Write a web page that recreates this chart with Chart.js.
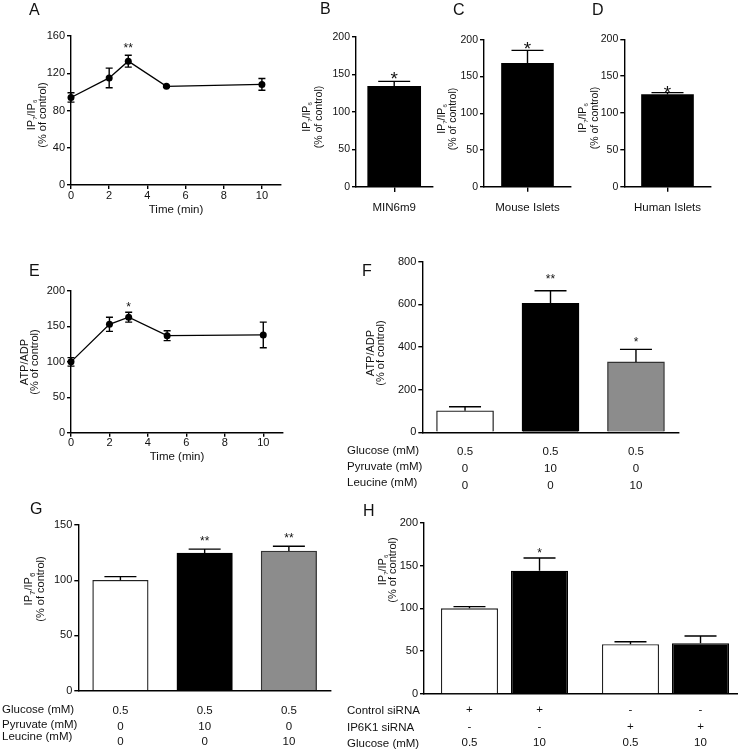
<!DOCTYPE html>
<html><head><meta charset="utf-8">
<script src="https://cdn.jsdelivr.net/npm/chart.js@4.4.1/dist/chart.umd.min.js"></script>
<style>
html,body{margin:0;padding:0;background:#fff;overflow:hidden;width:738px;height:751px;}
#wrap{position:relative;width:738px;height:751px;overflow:hidden;font-family:'Liberation Sans',Arial,Helvetica,sans-serif;color:#111;}
canvas{position:absolute;left:0;top:0;}
.lbl{position:absolute;font-size:16px;line-height:1;z-index:5;}
.yt{position:absolute;white-space:nowrap;transform:translate(-50%,-50%) rotate(-90deg);font-size:11px;line-height:1;z-index:5;}
.yt.s{font-size:10.5px;}
.yt sub{font-size:6px;vertical-align:-2px;line-height:0;}
.yt sub.big{font-size:8px;vertical-align:-3px;}
.xt{position:absolute;white-space:nowrap;transform:translate(-50%,-50%);font-size:11.5px;line-height:1;z-index:5;}
</style></head>
<body><div id="wrap">
<canvas id="cA" width="738" height="751"></canvas>
<canvas id="cB" width="738" height="751"></canvas>
<canvas id="cC" width="738" height="751"></canvas>
<canvas id="cD" width="738" height="751"></canvas>
<canvas id="cE" width="738" height="751"></canvas>
<canvas id="cF" width="738" height="751"></canvas>
<canvas id="cG" width="738" height="751"></canvas>
<canvas id="cH" width="760" height="751"></canvas>

<div class="lbl" style="left:29px;top:2px">A</div>
<div class="lbl" style="left:320px;top:1px">B</div>
<div class="lbl" style="left:453px;top:2px">C</div>
<div class="lbl" style="left:592px;top:2px">D</div>
<div class="lbl" style="left:29px;top:263px">E</div>
<div class="lbl" style="left:362px;top:263px">F</div>
<div class="lbl" style="left:30px;top:501px">G</div>
<div class="lbl" style="left:363px;top:503px">H</div>

<div class="yt" style="left:31px;top:115px">IP<sub>7</sub>/IP<sub>6</sub></div>
<div class="yt" style="left:42px;top:115px">(% of control)</div>
<div class="yt s" style="left:306px;top:117px">IP<sub>7</sub>/IP<sub>6</sub></div>
<div class="yt s" style="left:318px;top:117px">(% of control)</div>
<div class="yt s" style="left:441px;top:119px">IP<sub>7</sub>/IP<sub>6</sub></div>
<div class="yt s" style="left:452px;top:119px">(% of control)</div>
<div class="yt s" style="left:582px;top:118px">IP<sub>7</sub>/IP<sub>6</sub></div>
<div class="yt s" style="left:594px;top:118px">(% of control)</div>
<div class="yt" style="left:24px;top:362px">ATP/ADP</div>
<div class="yt" style="left:34px;top:362px">(% of control)</div>
<div class="yt" style="left:370px;top:353px">ATP/ADP</div>
<div class="yt" style="left:380px;top:353px">(% of control)</div>
<div class="yt" style="left:28px;top:589px">IP<sub class="big">7</sub>/IP<sub class="big">6</sub></div>
<div class="yt" style="left:40px;top:589px">(% of control)</div>
<div class="yt" style="left:382px;top:570px">IP<sub>7</sub>/IP<sub>6</sub></div>
<div class="yt" style="left:392px;top:570px">(% of control)</div>

<div class="xt" style="left:176px;top:210px">Time (min)</div>
<div class="xt" style="left:177px;top:457px">Time (min)</div>
</div>
<script>
// ---------------- DATA ----------------
const timeMin = [0, 2, 3, 5, 10];
const ipRatioTime = [94, 115, 133, 106, 108];
const ipRatioTimeErr = [5, 10.5, 6.4, 1, 6.3];
const ipRatioTimeSig = ['', '', '**', '', ''];

const atpTime = [100, 153, 163, 137, 138];
const atpTimeErr = [6, 10, 7, 7, 18];
const atpTimeSig = ['', '', '*', '', ''];

const cellTypes = ['MIN6m9', 'Mouse Islets', 'Human Islets'];
const ipRatioCells = [134, 168, 125];
const ipRatioCellsErr = [6.6, 17.5, 2.6];
const ipRatioCellsSig = ['*', '*', '*'];

const condRowLabels = ['Glucose (mM)', 'Pyruvate (mM)', 'Leucine (mM)'];
const condGlucose = ['0.5', '0.5', '0.5'];
const condPyruvate = ['0', '10', '0'];
const condLeucine = ['0', '0', '10'];

const atpCond = [101, 605, 330];
const atpCondErr = [19, 59, 59];
const atpCondSig = ['', '**', '*'];

const ipCond = [100, 124.6, 126.4];
const ipCondErr = [3.3, 3.6, 4.3];
const ipCondSig = ['', '**', '**'];

const siGroups = ['Control siRNA', 'IP6K1 siRNA'];
const siRowLabels = ['Control siRNA', 'IP6K1 siRNA', 'Glucose (mM)'];
const siControlRow = ['+', '+', '-', '-'];
const siIP6K1Row = ['-', '-', '+', '+'];
const siGlucoseRow = ['0.5', '10', '0.5', '10'];
const ipSiLowGlc = [100, 58];
const ipSiLowGlcErr = [2, 3];
const ipSiLowGlcSig = ['', ''];
const ipSiHighGlc = [144, 59.2];
const ipSiHighGlcErr = [14.8, 8.5];
const ipSiHighGlcSig = ['*', ''];

const xTicksTime = [0, 2, 4, 6, 8, 10];
const yTicksA = [0, 40, 80, 120, 160];
const yTicks200 = [0, 50, 100, 150, 200];
const yTicksF = [0, 200, 400, 600, 800];
const yTicksG = [0, 50, 100, 150];

// ---------------- HELPERS ----------------
const FONT = "'Liberation Sans', Arial, Helvetica, sans-serif";
Chart.defaults.font.family = FONT;
const CH = 751, YW = 40, XH = 40;
function pad(L, T, R, B, cw) { return { left: L - YW, top: T, right: (cw || 738) - R, bottom: CH - B - XH }; }

function yLin(min, max, ticks, fs) {
  return {
    type: 'linear', min, max,
    afterBuildTicks: s => { s.ticks = ticks.map(v => ({ value: v })); },
    afterFit: s => { s.width = YW; },
    border: { display: true, color: '#000', width: 1.4 },
    grid: { display: true, drawOnChartArea: false, drawTicks: true, tickLength: 4, color: '#000', lineWidth: 1.4 },
    ticks: { font: { family: FONT, size: fs }, color: '#111', padding: 2 }
  };
}
function xLin(min, max, ticks) {
  return {
    type: 'linear', min, max,
    afterBuildTicks: s => { s.ticks = ticks.map(v => ({ value: v })); },
    afterFit: s => { s.height = XH; },
    border: { display: true, color: '#000', width: 1.4 },
    grid: { display: true, drawOnChartArea: false, drawTicks: true, tickLength: 4, color: '#000', lineWidth: 1.4 },
    ticks: { font: { family: FONT, size: 11 }, color: '#111', padding: 0, maxRotation: 0 }
  };
}
function xCat(showTickMarks, showLabels) {
  return {
    type: 'category', offset: true,
    afterFit: s => { s.height = XH; },
    border: { display: true, color: '#000', width: 1.4 },
    grid: { display: showTickMarks, offset: false, drawOnChartArea: false, drawTicks: true, tickLength: 5, color: '#000', lineWidth: 1.4 },
    ticks: { display: showLabels, font: { family: FONT, size: 11.5 }, color: '#111', padding: 9, maxRotation: 0, autoSkip: false }
  };
}
function baseOptions(padding, scales) {
  return {
    responsive: false, animation: false, devicePixelRatio: 1, events: [],
    layout: { padding },
    plugins: { legend: { display: false }, tooltip: { enabled: false }, title: { display: false } },
    scales
  };
}
function eachPoint(chart, fn) {
  chart.data.datasets.forEach((ds, di) => {
    const meta = chart.getDatasetMeta(di);
    meta.data.forEach((el, i) => {
      const raw = ds.data[i];
      const v = (raw !== null && typeof raw === 'object') ? raw.y : raw;
      fn(ds, el, i, v, di);
    });
  });
}
function errBars(o) {
  const drawBars = chart => {
    const ctx = chart.ctx, y = chart.scales.y;
    eachPoint(chart, (ds, el, i, v) => {
      if (!ds.errors) return;
      const e = ds.errors[i];
      const x = el.x;
      const yTop = y.getPixelForValue(v + e);
      const yBot = o.upOnly ? y.getPixelForValue(v) : y.getPixelForValue(v - e);
      ctx.save();
      ctx.strokeStyle = '#000'; ctx.lineWidth = o.lw || 1.4;
      ctx.beginPath();
      ctx.moveTo(x, yBot); ctx.lineTo(x, yTop);
      ctx.moveTo(x - o.cap, yTop); ctx.lineTo(x + o.cap, yTop);
      if (!o.upOnly) { ctx.moveTo(x - o.cap, yBot); ctx.lineTo(x + o.cap, yBot); }
      ctx.stroke();
      ctx.restore();
    });
  };
  const p = {
    id: 'errBars',
    afterDraw(chart) {
      const ctx = chart.ctx, y = chart.scales.y;
      eachPoint(chart, (ds, el, i, v) => {
        const s = ds.stars && ds.stars[i];
        if (!s) return;
        const g = Array.isArray(o.starGap) ? o.starGap[i] : o.starGap;
        const yTop = y.getPixelForValue(v + ds.errors[i]);
        const fs = o.starSize;
        ctx.save();
        ctx.font = fs + 'px ' + FONT; ctx.fillStyle = '#111';
        ctx.textAlign = 'center'; ctx.textBaseline = 'alphabetic';
        ctx.fillText(s, el.x, yTop - g + 0.58 * fs);
        ctx.restore();
      });
    }
  };
  if (o.before) p.beforeDatasetsDraw = drawBars; else p.afterDatasetsDraw = drawBars;
  return p;
}
function condTable(o) {
  return {
    id: 'condTable',
    afterDraw(chart) {
      const ctx = chart.ctx;
      const xs = [];
      eachPoint(chart, (ds, el) => xs.push(el.x));
      xs.sort((a, b) => a - b);
      const base = chart.chartArea.bottom;
      ctx.save();
      ctx.font = o.fs + 'px ' + FONT; ctx.fillStyle = '#111'; ctx.textBaseline = 'alphabetic';
      o.rows.forEach((row, r) => {
        const yy = base + o.offsets[r];
        ctx.textAlign = 'center';
        row.forEach((t, k) => ctx.fillText(t, xs[k], yy));
        ctx.textAlign = 'left';
        ctx.fillText(o.headers[r], o.headerX, yy + o.headerDy[r]);
      });
      ctx.restore();
    }
  };
}
const lineStyle = { borderColor: '#000', borderWidth: 1.3, pointRadius: 3.5, pointBackgroundColor: '#000', pointBorderColor: '#000', pointBorderWidth: 0, tension: 0, clip: false };

// ---------------- A ----------------
new Chart(document.getElementById('cA'), {
  type: 'line',
  data: { datasets: [Object.assign({ data: timeMin.map((t, i) => ({ x: t, y: ipRatioTime[i] })), errors: ipRatioTimeErr, stars: ipRatioTimeSig }, lineStyle)] },
  options: baseOptions(pad(71, 36, 281, 185), { x: xLin(0, 11, xTicksTime), y: yLin(0, 160, yTicksA, 11) }),
  plugins: [errBars({ cap: 3.5, upOnly: false, before: true, starSize: 12, starGap: 10 })]
});

// ---------------- B, C, D ----------------
const cellBoxes = [[356, 36.7, 432.4, 187, 53, 7], [484, 39.7, 571, 186.7, 52, 6.5], [624.3, 39.3, 710.7, 186.7, 52, 5]];
['cB', 'cC', 'cD'].forEach((id, k) => {
  const b = cellBoxes[k];
  new Chart(document.getElementById(id), {
    type: 'bar',
    data: { labels: [cellTypes[k]], datasets: [{ data: [ipRatioCells[k]], errors: [ipRatioCellsErr[k]], stars: [ipRatioCellsSig[k]], backgroundColor: '#000', borderWidth: 0, barThickness: b[4] }] },
    options: baseOptions(pad(b[0], b[1], b[2], b[3]), { x: xCat(true, true), y: yLin(0, 200, yTicks200, 10.5) }),
    plugins: [errBars({ cap: 16, upOnly: true, starSize: 19, starGap: b[5] })]
  });
});

// ---------------- E ----------------
new Chart(document.getElementById('cE'), {
  type: 'line',
  data: { datasets: [Object.assign({ data: timeMin.map((t, i) => ({ x: t, y: atpTime[i] })), errors: atpTimeErr, stars: atpTimeSig }, lineStyle)] },
  options: baseOptions(pad(71, 291, 282.5, 432.7), { x: xLin(0, 11, xTicksTime), y: yLin(0, 200, yTicks200, 11) }),
  plugins: [errBars({ cap: 3.5, upOnly: false, before: true, starSize: 12, starGap: 8 })]
});

// ---------------- F ----------------
const condLabels = condGlucose.map((g, i) => g + '/' + condPyruvate[i] + '/' + condLeucine[i]);
const condBarStyle = { backgroundColor: ['#ffffff', '#000000', '#8c8c8c'], borderColor: ['#222', '#000', '#333'], borderWidth: 1.3 };
new Chart(document.getElementById('cF'), {
  type: 'bar',
  data: { labels: condLabels, datasets: [Object.assign({ data: atpCond, errors: atpCondErr, stars: atpCondSig, barThickness: 57 }, condBarStyle)] },
  options: baseOptions(pad(422.3, 261.7, 678.7, 432.3), { x: xCat(false, false), y: yLin(0, 800, yTicksF, 11) }),
  plugins: [errBars({ cap: 16, upOnly: true, starSize: 12, starGap: [0, 15, 10] }),
    condTable({ rows: [condGlucose, condPyruvate, condLeucine], headers: condRowLabels, headerX: 347, offsets: [22.7, 39.7, 56.7], headerDy: [-1, -2, -3], fs: 11.5 })]
});

// ---------------- G ----------------
new Chart(document.getElementById('cG'), {
  type: 'bar',
  data: { labels: condLabels, datasets: [Object.assign({ data: ipCond, errors: ipCondErr, stars: ipCondSig, barThickness: 55.5 }, condBarStyle)] },
  options: baseOptions(pad(78.3, 525, 331, 690.7), { x: xCat(false, false), y: yLin(0, 150, yTicksG, 11) }),
  plugins: [errBars({ cap: 16, upOnly: true, starSize: 12, starGap: [0, 11.5, 11] }),
    condTable({ rows: [condGlucose, condPyruvate, condLeucine], headers: condRowLabels, headerX: 2, offsets: [23.3, 39.3, 54], headerDy: [-1.5, -2.5, -4.5], fs: 11.5 })]
});

// ---------------- H ----------------
new Chart(document.getElementById('cH'), {
  type: 'bar',
  data: {
    labels: siGroups,
    datasets: [
      { label: '0.5 mM glucose', data: ipSiLowGlc, errors: ipSiLowGlcErr, stars: ipSiLowGlcSig, backgroundColor: '#fff', borderColor: '#222', borderWidth: 1.3, categoryPercentage: 0.87, barPercentage: 0.814 },
      { label: '10 mM glucose', data: ipSiHighGlc, errors: ipSiHighGlcErr, stars: ipSiHighGlcSig, backgroundColor: '#000', borderColor: '#000', borderWidth: 1.3, categoryPercentage: 0.87, barPercentage: 0.814 }
    ]
  },
  options: baseOptions(pad(424, 522.7, 746, 694, 760), { x: xCat(false, false), y: yLin(0, 200, yTicks200, 11) }),
  plugins: [errBars({ cap: 16, upOnly: true, starSize: 12, starGap: 7.5 }),
    condTable({ rows: [siControlRow, siIP6K1Row, siGlucoseRow], headers: siRowLabels, headerX: 347, offsets: [19, 35.5, 52], headerDy: [1, 1, 1], fs: 11.5 })]
});
</script>
</body></html>
